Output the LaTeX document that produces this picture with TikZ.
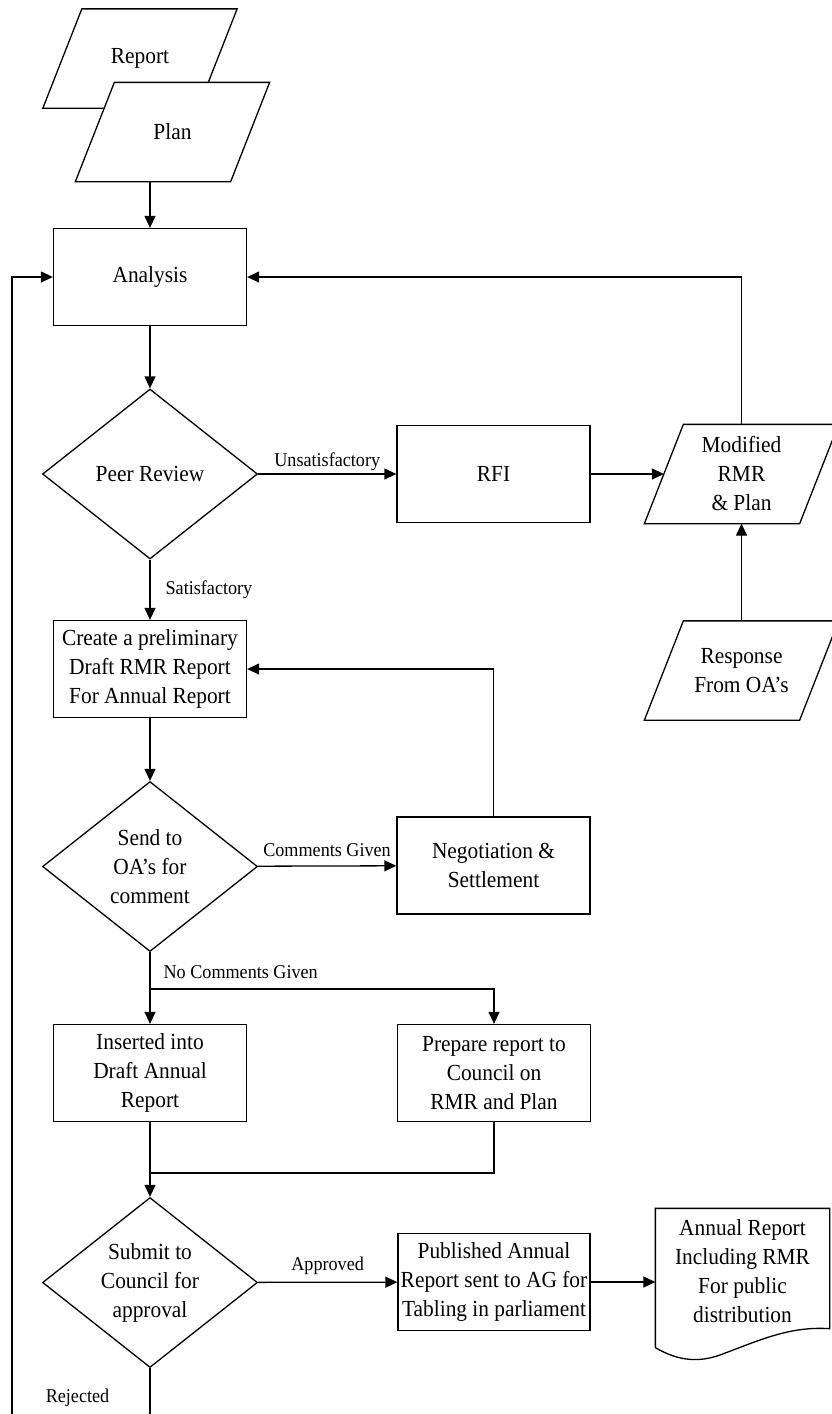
\documentclass[tikz,border=0pt]{standalone}
\usepackage{fontspec}
\setmainfont{Liberation Serif}[FakeStretch=0.93]
\usepackage{tikz}
\usetikzlibrary{arrows.meta,calc,shapes.geometric,backgrounds}
\newcommand{\boxfont}{\fontsize{23}{29}\selectfont}
\newcommand{\labfont}{\fontsize{19.5}{23}\selectfont}
% outline of a data node: the body leans right by 19.5 at top and bottom
\newcommand{\iooutline}[1]{%
  \filldraw[fill=white,line width=1.3pt] ($(#1.south west)+(-19.5,0)$) -- ($(#1.south east)+(-19.5,0)$)
    -- ($(#1.north east)+(19.5,0)$) -- ($(#1.north west)+(19.5,0)$) -- cycle;}
\tikzset{
  box/.style={rectangle,draw,fill=white,minimum width=193pt,minimum height=97pt,
    inner sep=0pt,align=center,font=\boxfont},
  decision/.style={diamond,draw,fill=white,aspect=1.265,minimum width=215pt,
    minimum height=170pt,inner sep=0pt,align=center,font=\boxfont},
  io/.style={rectangle,draw=none,minimum width=154pt,minimum height=98pt,
    inner sep=0pt,align=center,font=\boxfont},
  doc/.style={rectangle,draw=none,minimum width=173pt,minimum height=124pt,
    inner sep=0pt,align=center,font=\boxfont},
  lab/.style={font=\labfont,inner sep=3pt},
  arr/.style={-{Triangle[length=12pt,width=11pt]}}
}

\begin{document}
\begin{tikzpicture}[x=1pt,y=-1pt,line width=1.3pt]
\useasboundingbox (0,0) rectangle (831,1414);
\clip (0,0) rectangle (831,1414);
% ---------- inputs ----------
\node[io] (rep) at (140,58.5) {Report};
\node[io] (plan) at (172.5,132) {Plan};
% ---------- left column ----------
\node[box] (ana) at (150,277) {Analysis};
\node[decision] (peer) at (150,474) {Peer Review};
\node[box] (create) at (150,669) {Create a preliminary\\Draft RMR Report\\For Annual Report};
\node[decision] (send) at (150,866.5) {Send to\\OA’s for\\comment};
\node[box] (ins) at (150,1073) {Inserted into\\Draft Annual\\Report};
\node[decision] (sub) at (150,1282.5) {Submit to\\Council for\\approval};
% ---------- middle / right ----------
\node[box] (rfi) at (493.5,474) {RFI};
\node[io] (mod) at (741.5,474) {Modified\\RMR\\\& Plan};
\node[io] (resp) at (741.5,670.5) {Response\\From OA’s};
\node[box] (neg) at (493.5,865.5) {Negotiation \&\\Settlement};
\node[box] (prep) at (494,1073) {Prepare report to\\Council on\\RMR and Plan};
\node[box,minimum width=192pt] (pub) at (494,1282) {Published Annual\\Report sent to AG for\\Tabling in parliament};
\node[doc] (doc) at (742.5,1271) {Annual Report\\Including RMR\\For public\\distribution};
\draw ($(doc.south west)+(0,14)$) -- (doc.north west) -- (doc.north east)
  -- ($(doc.south east)+(0,-5)$) .. controls (790,1326) and (760,1340) .. (720,1355)
  .. controls (700,1362) and (680,1362) .. ($(doc.south west)+(0,14)$);
\begin{scope}[on background layer]
\fill[white] (0,0) rectangle (831,1414);
\iooutline{rep}
\iooutline{plan}
\iooutline{mod}
\iooutline{resp}
\end{scope}
% ---------- arrows ----------
\draw[arr] (ana.north |- plan.south) -- (ana.north);
\draw[arr] (ana) -- (peer);
\draw[arr] (peer) -- node[lab,above]{Unsatisfactory} (rfi);
\draw[arr] (rfi) -- (mod);
\draw[arr] (mod.north) |- (ana.east);
\draw[arr] (resp.north) -- (mod.south);
\draw[arr] (peer) -- node[lab,right,xshift=12pt]{Satisfactory} (create);
\draw[arr] (create) -- (send);
\draw[arr] (send) -- node[lab,above,yshift=6pt]{Comments Given} (neg);
\draw[arr] (neg.north) |- (create.east);
\coordinate (split) at (150,989);
\draw (send.south) -- (split) node[lab,anchor=south west,xshift=10pt,yshift=7pt]{No Comments Given};
\draw[arr] (split) -- (ins);
\draw[arr] (split) -| (prep);
\coordinate (join) at (150,1173);
\draw (ins) -- (join);
\draw (prep) |- (join);
\draw[arr] (join) -- (sub);
\draw[arr] (sub) -- node[lab,above,yshift=4pt]{Approved} (pub);
\draw[arr] (pub.east) -- (pub.east -| doc.west);
% rejected: back up to the analysis
\coordinate (back) at (12,1440);
\draw[arr] (sub.south) |- (back) |- (ana.west);
\node[lab] (rej) at (77.5,1398) {Rejected};
\end{tikzpicture}
\end{document}
